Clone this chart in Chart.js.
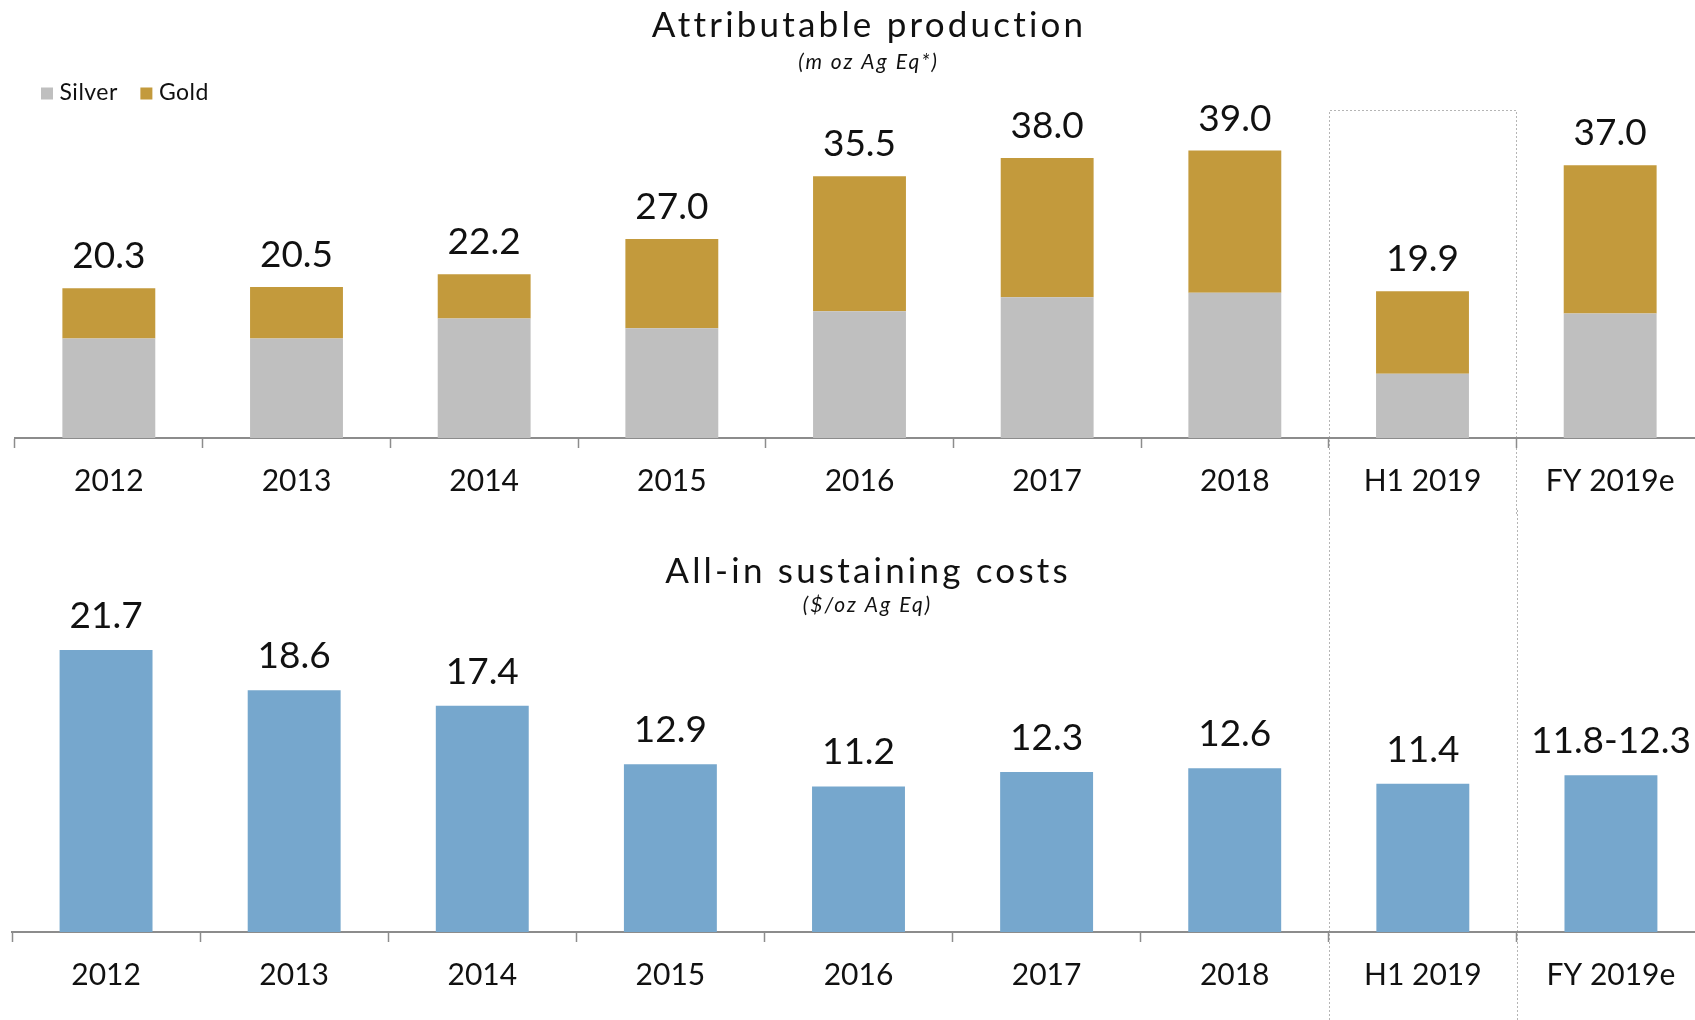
<!DOCTYPE html>
<html>
<head>
<meta charset="utf-8">
<title>Attributable production and all-in sustaining costs</title>
<script src="https://cdn.jsdelivr.net/npm/chart.js@4.4.1/dist/chart.umd.min.js"></script>
<style>
  html, body { margin: 0; padding: 0; background: #ffffff; overflow: hidden; }
  #wrap { position: relative; width: 1695px; height: 1020px; overflow: hidden; }
  canvas { position: absolute; left: 0; }
  #prod { top: 0; }
  #aisc { top: 510px; }
</style>
</head>
<body>
<div id="wrap">
  <canvas id="prod" width="1704" height="514"></canvas>
  <canvas id="aisc" width="1705" height="510"></canvas>
</div>
<script>
// Reporting periods shared by both panels
const periods = ['2012', '2013', '2014', '2015', '2016', '2017', '2018', 'H1 2019', 'FY 2019e'];

// Attributable production, m oz Ag Eq, split by metal
const silverProd = [13.5, 13.5, 16.2, 14.9, 17.2, 19.1, 19.7, 8.7, 16.9];
const goldProd   = [6.8, 7.0, 6.0, 12.1, 18.3, 18.9, 19.3, 11.2, 20.1];

// All-in sustaining costs, $/oz Ag Eq (FY 2019e bar sits at the middle of the guidance range)
const aiscValues = [21.7, 18.6, 17.4, 12.9, 11.2, 12.3, 12.6, 11.4, 12.05];
const aiscLabels = ['21.7', '18.6', '17.4', '12.9', '11.2', '12.3', '12.6', '11.4', '11.8-12.3'];

// Period framed by the dotted outline
const framedPeriod = 'H1 2019';

const FONT = 'Lato, "Open Sans", "DejaVu Sans", sans-serif';
const TEXT = '#111111';
const AXIS = '#8c8c8c';
const SILVER = '#bfbfbf';
const GOLD = '#c39a3c';
const BLUE = '#76a7cd';

// Draws text with extra tracking; returns the drawn width
function spacedText(ctx, text, x, y, spacing, align) {
  const hasTracking = 'letterSpacing' in ctx;
  let width;
  if (hasTracking) {
    ctx.letterSpacing = spacing + 'px';
    width = ctx.measureText(text).width - spacing;
  } else {
    width = 0;
    for (const ch of text) width += ctx.measureText(ch).width + spacing;
    width -= spacing;
  }
  const start = align === 'center' ? x - width / 2 : x;
  ctx.textAlign = 'left';
  if (hasTracking) {
    ctx.fillText(text, start, y);
    ctx.letterSpacing = '0px';
  } else {
    let cx = start;
    for (const ch of text) {
      ctx.fillText(ch, cx, y);
      cx += ctx.measureText(ch).width + spacing;
    }
  }
  return width;
}

// Panel heading and units line
const panelTitles = {
  id: 'panelTitles',
  afterDraw(chart, args, opts) {
    const ctx = chart.ctx;
    const cx = (chart.chartArea.left + chart.chartArea.right) / 2 + opts.shift;
    ctx.save();
    ctx.fillStyle = TEXT;
    ctx.textBaseline = 'middle';
    ctx.font = `${opts.titleSize}px ${FONT}`;
    spacedText(ctx, opts.title, cx, opts.titleY, opts.titleSpacing, 'center');
    ctx.font = `italic ${opts.subSize}px ${FONT}`;
    spacedText(ctx, opts.subtitle, cx, opts.subtitleY, opts.subSpacing, 'center');
    ctx.restore();
  }
};

// Writes a label above the top of each stack
const valueLabels = {
  id: 'valueLabels',
  afterDatasetsDraw(chart, args, opts) {
    const ctx = chart.ctx;
    const metas = chart.getSortedVisibleDatasetMetas();
    const topMeta = metas[metas.length - 1];
    ctx.save();
    ctx.fillStyle = TEXT;
    ctx.font = `${opts.size}px ${FONT}`;
    ctx.textAlign = 'center';
    ctx.textBaseline = 'alphabetic';
    topMeta.data.forEach((bar, i) => {
      ctx.fillText(opts.text(i), bar.x, bar.y - opts.offset);
    });
    ctx.restore();
  }
};

// Dotted outline around one period, running down to the bottom of the canvas
const periodFrame = {
  id: 'periodFrame',
  beforeDraw(chart, args, opts) {
    const x = chart.scales.x;
    const idx = chart.data.labels.indexOf(opts.label);
    if (idx < 0) return;
    const half = x.width / chart.data.labels.length / 2;
    const c = x.getPixelForValue(idx);
    const l = Math.round(c - half) + 0.5;
    const r = Math.round(c + half) + 0.5;
    const top = opts.closedTop ? Math.round(chart.chartArea.top) + 0.5 : 0;
    const ctx = chart.ctx;
    ctx.save();
    ctx.strokeStyle = '#b5b5b5';
    ctx.lineWidth = 1;
    ctx.setLineDash([2, 2]);
    ctx.beginPath();
    ctx.moveTo(l, chart.height);
    ctx.lineTo(l, top);
    if (opts.closedTop) ctx.lineTo(r, top); else ctx.moveTo(r, top);
    ctx.lineTo(r, chart.height);
    ctx.stroke();
    ctx.restore();
  }
};

// Compact legend in the top-left corner
const cornerLegend = {
  id: 'cornerLegend',
  afterDraw(chart, args, opts) {
    const ctx = chart.ctx;
    ctx.save();
    ctx.font = `${opts.size}px ${FONT}`;
    ctx.textBaseline = 'alphabetic';
    let x = opts.x;
    chart.data.datasets.forEach(ds => {
      ctx.fillStyle = ds.backgroundColor;
      ctx.fillRect(x, opts.y - opts.box, opts.box, opts.box);
      ctx.fillStyle = TEXT;
      const tx = x + opts.box + opts.gap;
      const w = spacedText(ctx, ds.label, tx, opts.y, opts.spacing, 'left');
      x = tx + w + opts.itemGap;
    });
    ctx.restore();
  }
};

function xAxis() {
  return {
    stacked: true,
    grid: {
      display: true,
      drawOnChartArea: false,
      drawTicks: true,
      tickLength: 10,
      tickWidth: 1.5,
      tickColor: AXIS,
      offset: true
    },
    border: { display: true, color: AXIS, width: 2 },
    ticks: {
      color: TEXT,
      font: { family: FONT, size: 30 },
      padding: 15,
      maxRotation: 0,
      autoSkip: false
    }
  };
}

new Chart(document.getElementById('prod'), {
  type: 'bar',
  data: {
    labels: periods,
    datasets: [
      { label: 'Silver', data: silverProd, backgroundColor: SILVER, borderWidth: 0,
        categoryPercentage: 1, barPercentage: 0.495 },
      { label: 'Gold', data: goldProd, backgroundColor: GOLD, borderWidth: 0,
        categoryPercentage: 1, barPercentage: 0.495 }
    ]
  },
  plugins: [periodFrame, valueLabels, panelTitles, cornerLegend],
  options: {
    responsive: false,
    animation: false,
    layout: { padding: { left: 15, right: 0, top: 110, bottom: 0 } },
    scales: {
      x: xAxis(),
      y: { display: false, stacked: true, min: 0, max: 44.5 }
    },
    plugins: {
      legend: { display: false },
      tooltip: { enabled: false },
      title: { display: false },
      periodFrame: { label: framedPeriod, closedTop: true },
      valueLabels: {
        size: 37, offset: 20,
        text: i => (silverProd[i] + goldProd[i]).toFixed(1)
      },
      panelTitles: {
        title: 'Attributable production', subtitle: '(m oz Ag Eq*)',
        shift: 8, titleSize: 35, titleSpacing: 3.2, titleY: 25.5,
        subSize: 21, subSpacing: 2, subtitleY: 62
      },
      cornerLegend: { x: 41, y: 99.5, box: 12, gap: 6.5, itemGap: 23, size: 23, spacing: 0.5 }
    }
  }
});

new Chart(document.getElementById('aisc'), {
  type: 'bar',
  data: {
    labels: periods,
    datasets: [
      { label: 'AISC', data: aiscValues, backgroundColor: BLUE, borderWidth: 0,
        categoryPercentage: 1, barPercentage: 0.494 }
    ]
  },
  plugins: [periodFrame, valueLabels, panelTitles],
  options: {
    responsive: false,
    animation: false,
    layout: { padding: { left: 12, right: 0, top: 110, bottom: 12 } },
    scales: {
      x: xAxis(),
      y: { display: false, stacked: true, min: 0, max: 24 }
    },
    plugins: {
      legend: { display: false },
      tooltip: { enabled: false },
      title: { display: false },
      periodFrame: { label: framedPeriod, closedTop: false },
      valueLabels: {
        size: 37, offset: 22,
        text: i => aiscLabels[i]
      },
      panelTitles: {
        title: 'All-in sustaining costs', subtitle: '($/oz Ag Eq)',
        shift: 8, titleSize: 35, titleSpacing: 3.2, titleY: 61.8,
        subSize: 21, subSpacing: 2, subtitleY: 95.6
      }
    }
  }
});
</script>
</body>
</html>
